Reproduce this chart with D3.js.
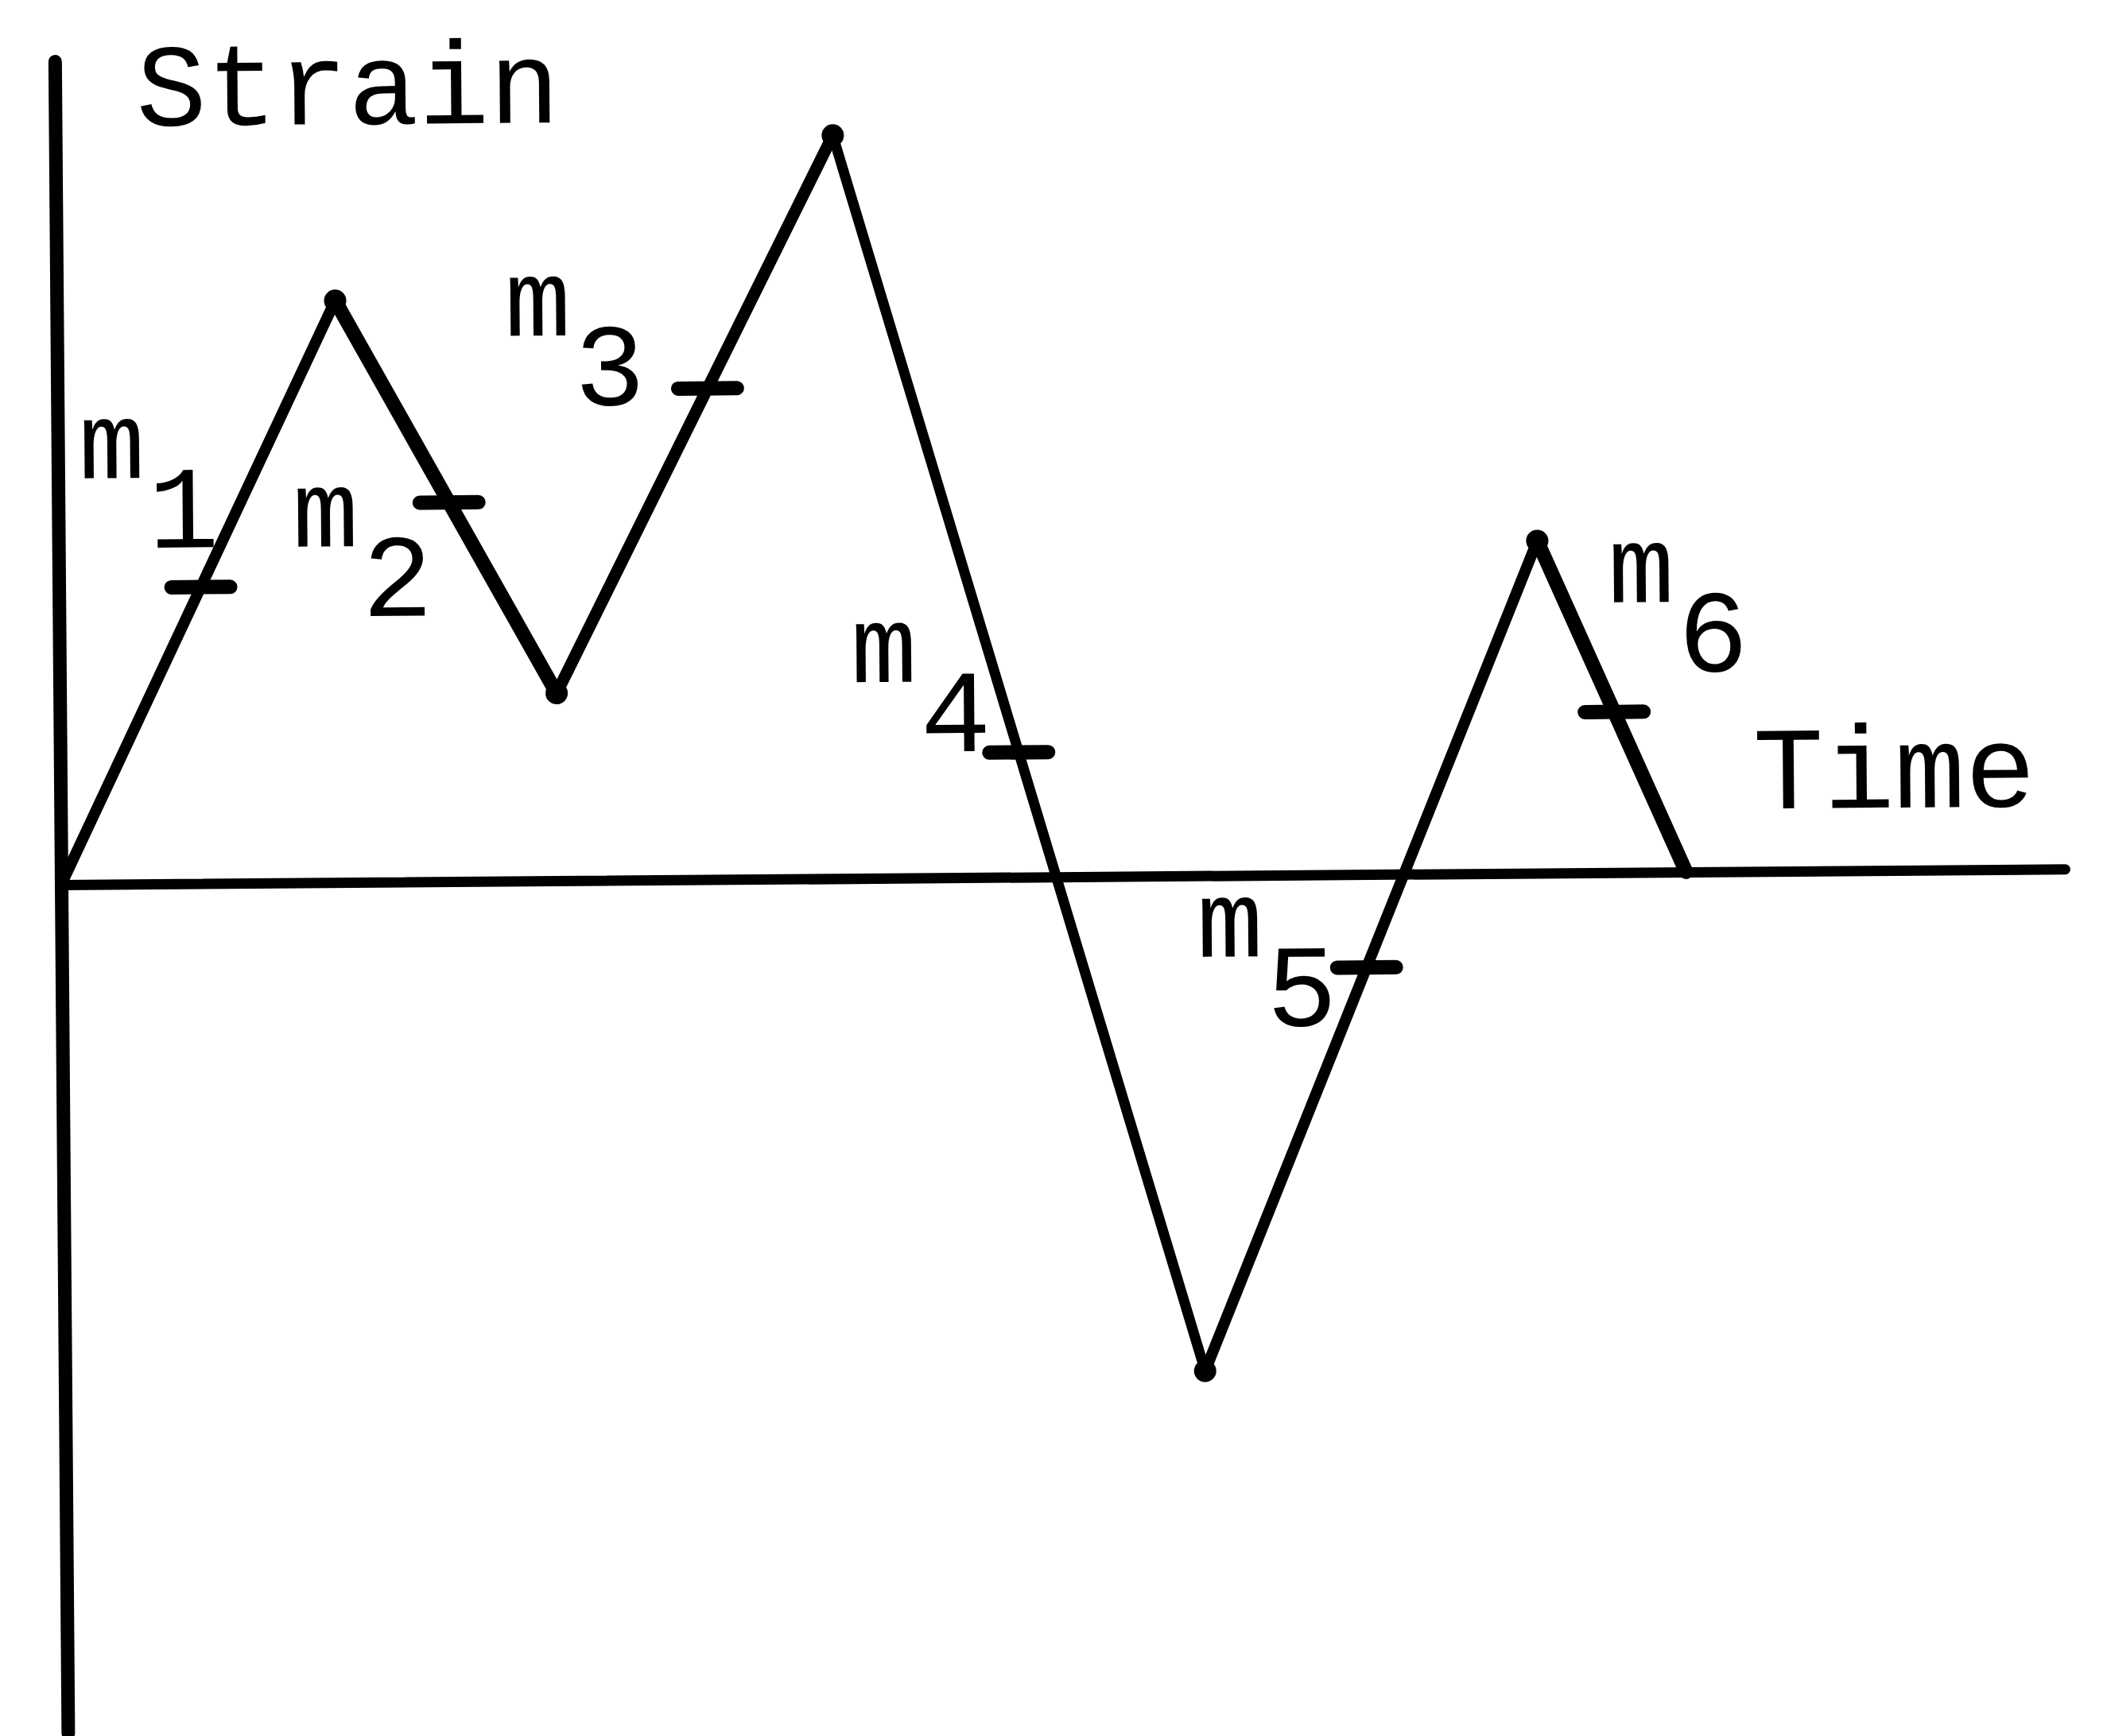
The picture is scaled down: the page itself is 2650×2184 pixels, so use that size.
<!DOCTYPE html>
<html>
<head>
<meta charset="utf-8">
<script src="https://cdn.jsdelivr.net/npm/d3@7"></script>
<style>
    html, body { margin: 0; padding: 0; background: #fff; }
    svg { display: block; }
    text { font-family: "Liberation Mono", "DejaVu Sans Mono", monospace; fill: #000; }
</style>
</head>
<body>
<div id="chart"></div>
<script>
// strain history: turning points (time, strain), arbitrary units
const cycleTime = [0, 13.9, 24.8, 38.8, 56.9, 73.8, 81.1];
const cycleStrain = [0, 7.32, 2.36, 9.35, -6.23, 4.18, 0];

// mean strain marks m1..m6, one on each reversal
const meanNames = ["1", "2", "3", "4", "5", "6"];
const meanStrain = [3.73, 4.77, 6.18, 1.57, -1.17, 2.02];

const axisNames = ["Strain", "Time"];

{
    const layout = {
        width: 2650,
        height: 2184,
        originX: 77,
        originY: 1113,
        tilt: -0.45,
        fontSize: 148,
        mSize: 138
    };

    // label placement relative to each mark (px)
    const labelOffset = [[-152, -138], [-197, 54], [-254, -68], [-210, -90], [-213, -15], [-6, -138]];
    const segmentWidth = [14, 18, 15, 13, 14, 18];

    const svg = d3.select("#chart")
        .append("svg")
        .attr("width", layout.width)
        .attr("height", layout.height);

    svg.append("rect")
        .attr("width", layout.width)
        .attr("height", layout.height)
        .attr("fill", "#fff");

    const g = svg.append("g")
        .attr("transform", `translate(${layout.originX},${layout.originY}) rotate(${layout.tilt})`);

    const x = d3.scaleLinear().domain([0, 100]).range([0, 2520]);
    const y = d3.scaleLinear().domain([-10.67, 10.36]).range([1067, -1036]);

    // axes, no ticks
    const xAxis = g.append("g")
        .call(d3.axisBottom(x).tickValues([]).tickSizeOuter(0));
    xAxis.select(".domain")
        .attr("stroke", "#000")
        .attr("stroke-width", 13)
        .attr("stroke-linecap", "round");

    const yAxis = g.append("g")
        .call(d3.axisLeft(y).tickValues([]).tickSizeOuter(0));
    yAxis.select(".domain")
        .attr("stroke", "#000")
        .attr("stroke-width", 17)
        .attr("stroke-linecap", "round");

    const points = cycleTime.map((t, i) => ({ t: t, s: cycleStrain[i] }));
    const segments = d3.pairs(points);

    const line = d3.line()
        .x(d => x(d.t))
        .y(d => y(d.s));

    g.selectAll("path.segment")
        .data(segments)
        .enter()
        .append("path")
        .attr("class", "segment")
        .attr("d", d => line(d))
        .attr("fill", "none")
        .attr("stroke", "#000")
        .attr("stroke-width", (d, i) => segmentWidth[i])
        .attr("stroke-linecap", "round")
        .attr("stroke-linejoin", "round");

    // blobs at the reversals
    g.selectAll("circle.turn")
        .data(points.slice(1, -1))
        .enter()
        .append("circle")
        .attr("class", "turn")
        .attr("cx", d => x(d.t))
        .attr("cy", d => y(d.s))
        .attr("r", 14)
        .attr("fill", "#000");

    // mean marks sit on their own reversal segment
    const marks = meanStrain.map((m, i) => {
        const a = points[i], b = points[i + 1];
        const f = (m - a.s) / (b.s - a.s);
        return { name: meanNames[i], t: a.t + f * (b.t - a.t), s: m, off: labelOffset[i] };
    });

    g.selectAll("line.mark")
        .data(marks)
        .enter()
        .append("line")
        .attr("class", "mark")
        .attr("x1", d => x(d.t) - 37)
        .attr("x2", d => x(d.t) + 37)
        .attr("y1", d => y(d.s))
        .attr("y2", d => y(d.s))
        .attr("stroke", "#000")
        .attr("stroke-width", 18)
        .attr("stroke-linecap", "round");

    const labels = g.selectAll("text.mark-label")
        .data(marks)
        .enter()
        .append("text")
        .attr("class", "mark-label")
        .attr("x", d => x(d.t) + d.off[0])
        .attr("y", d => y(d.s) + d.off[1])
        .style("font-size", layout.mSize + "px")
        .text("m");

    labels.append("tspan")
        .attr("dx", 4)
        .attr("dy", 88)
        .style("font-size", layout.fontSize + "px")
        .text(d => d.name);

    g.append("text")
        .attr("x", x(0) + 102)
        .attr("y", y.range()[1] + 82)
        .style("font-size", layout.fontSize + "px")
        .text(axisNames[0]);

    g.append("text")
        .attr("x", x.range()[1] - 391)
        .attr("y", y(0) - 79)
        .style("font-size", layout.fontSize + "px")
        .text(axisNames[1]);
}
</script>
</body>
</html>
